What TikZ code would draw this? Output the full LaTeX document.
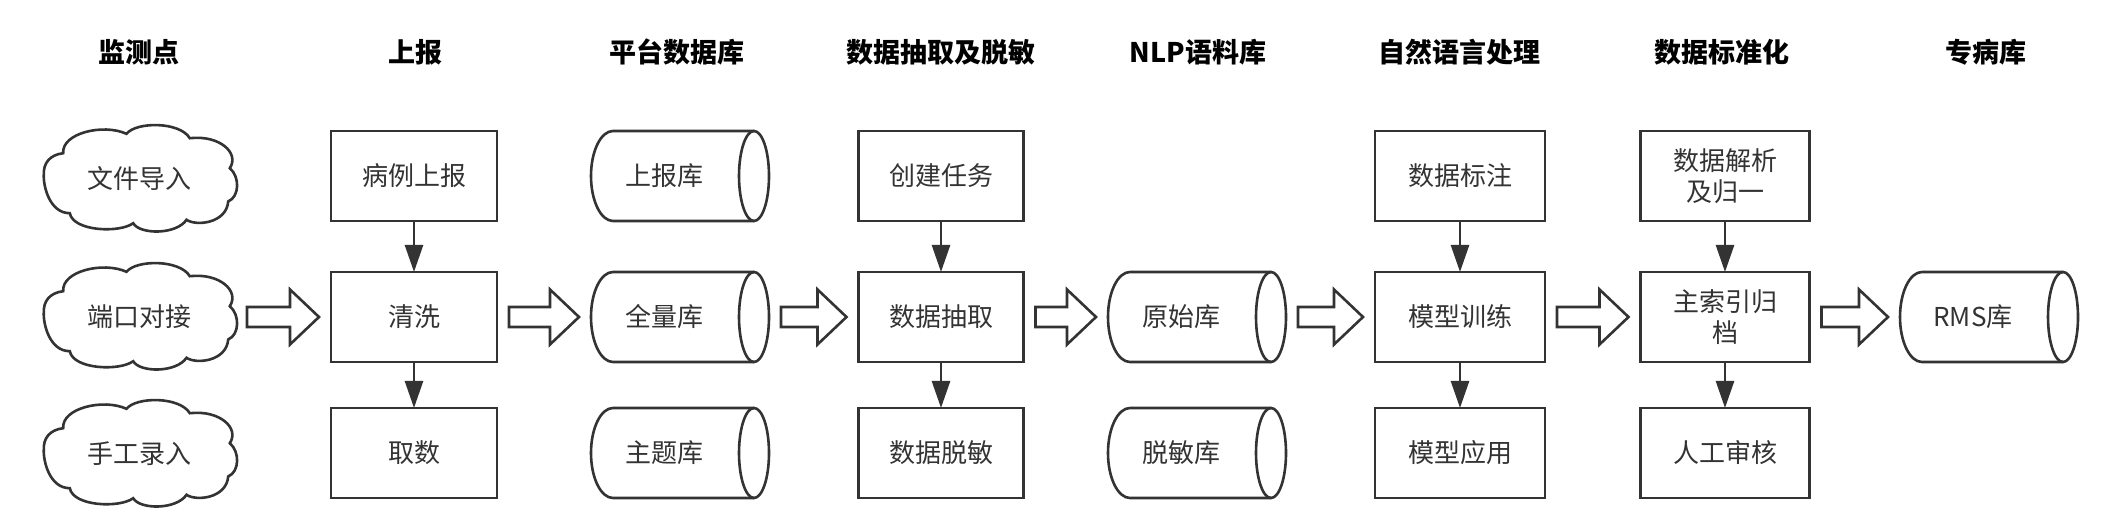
\documentclass[tikz,border=0pt]{standalone}
\usepackage{fontspec}
\setmainfont{Noto Sans CJK SC}
\usetikzlibrary{arrows.meta,calc}
\definecolor{linec}{HTML}{333333}
\definecolor{txtc}{HTML}{333333}
\tikzset{
  x=1pt, y=-1pt,
  every node/.style={inner sep=0pt, outer sep=0pt},
  hdr/.style={font=\fontsize{27}{30}\selectfont\bfseries, text=black},
  boxn/.style={draw=linec, line width=2.6pt, minimum height=90pt, text=txtc,
    font=\fontsize{26}{31}\selectfont, align=center},
  cyln/.style={minimum width=178pt, minimum height=90pt, text=txtc,
    font=\fontsize{26}{31}\selectfont},
  cloudn/.style={minimum width=192pt, minimum height=102pt, text=txtc,
    font=\fontsize{26}{31}\selectfont},
  shapeline/.style={draw=linec, line width=2.6pt},
  varr/.style={draw=linec, line width=2.6pt, -{Triangle[length=27pt,width=18pt]}},
  barr/.style={draw=linec, line width=2.6pt, fill=white, line join=miter},
}
\newcommand\mycloud[1]{%
  \draw[shapeline, shift={(#1.center)}]
    (-95.2,-4.2) .. controls (-95.8,-15.8) and (-89.2,-24.2) .. (-75.8,-25.8)
    .. controls (-77.5,-45.8) and (-35.8,-55.8) .. (-12.5,-45.2)
    .. controls (-2.5,-57.5) and (40.8,-57.5) .. (50.8,-40.8)
    .. controls (80.8,-44.2) and (100.8,-25.8) .. (90.8,-10.8)
    .. controls (100.8,-2.5) and (100.8,17.5) .. (89.2,22.5)
    .. controls (87.5,44.2) and (57.5,47.5) .. (47.5,40.8)
    .. controls (37.5,55.8) and (0.8,55.8) .. (-5.8,44.2)
    .. controls (-19.2,54.2) and (-65.8,52.5) .. (-69.2,34.2)
    .. controls (-89.2,34.2) and (-95.8,7.5) .. cycle;}
\newcommand\mycyl[1]{%
  \draw[shapeline] ([xshift=-15pt]#1.north east) -- ([xshift=22pt]#1.north west)
    arc[start angle=90, end angle=270, x radius=22pt, y radius=45pt]
    -- ([xshift=-15pt]#1.south east);
  \draw[shapeline] ([xshift=-15pt]#1.east) ellipse [x radius=15pt, y radius=45pt];}
\newcommand\blockarrow[2]{%
  \path let \p1=(#1.east), \p2=(#2.west) in
    [barr] (\x1+12pt,\y1+10pt) -- (\x2-41pt,\y1+10pt) -- (\x2-41pt,\y1+27.5pt)
    -- (\x2-12pt,\y1) -- (\x2-41pt,\y1-27.5pt) -- (\x2-41pt,\y1-10pt)
    -- (\x1+12pt,\y1-10pt) -- cycle;}
\begin{document}
\begin{tikzpicture}
\useasboundingbox (0,0) rectangle (2118,526);
% headers
\node[hdr] (h1) at (139,52) {监测点};
\node[hdr] (h2) at (415,52) {上报};
\node[hdr] (h3) at (677,52) {平台数据库};
\node[hdr] (h4) at (941,52) {数据抽取及脱敏};
\node[hdr] (h5) at (1198,52) {NLP语料库};
\node[hdr] (h6) at (1459,52) {自然语言处理};
\node[hdr] (h7) at (1722,52) {数据标准化};
\node[hdr] (h8) at (1986,52) {专病库};
% clouds
\node[cloudn] (c1) at (139,179) {文件导入};
\node[cloudn] (c2) at (139,317) {端口对接};
\node[cloudn] (c3) at (139,454) {手工录入};
\mycloud{c1}\mycloud{c2}\mycloud{c3}
% column 2
\node[boxn, minimum width=166pt] (b21) at (414,176) {病例上报};
\node[boxn, minimum width=166pt] (b22) at (414,317) {清洗};
\node[boxn, minimum width=166pt] (b23) at (414,453) {取数};
% column 3
\node[cyln] (y31) at (680,176) {\kern-32pt 上报库};
\node[cyln] (y32) at (680,317) {\kern-32pt 全量库};
\node[cyln] (y33) at (680,453) {\kern-32pt 主题库};
\mycyl{y31}\mycyl{y32}\mycyl{y33}
% column 4
\node[boxn, minimum width=165pt] (b41) at (941,176) {创建任务};
\node[boxn, minimum width=165pt] (b42) at (941,317) {数据抽取};
\node[boxn, minimum width=165pt] (b43) at (941,453) {数据脱敏};
% column 5
\node[cyln] (y52) at (1197,317) {\kern-32pt 原始库};
\node[cyln] (y53) at (1197,453) {\kern-32pt 脱敏库};
\mycyl{y52}\mycyl{y53}
% column 6
\node[boxn, minimum width=170pt] (b61) at (1460,176) {数据标注};
\node[boxn, minimum width=170pt] (b62) at (1460,317) {模型训练};
\node[boxn, minimum width=170pt] (b63) at (1460,453) {模型应用};
% column 7
\node[boxn, minimum width=169pt] (b71) at (1725,176) {数据解析\\及归一};
\node[boxn, minimum width=169pt] (b72) at (1725,317) {主索引归\\档};
\node[boxn, minimum width=169pt] (b73) at (1725,453) {人工审核};
% column 8
\node[cyln] (y82) at (1989,317) {\kern-32pt RMS库};
\mycyl{y82}
% vertical arrows
\draw[varr] (b21) -- (b22);
\draw[varr] (b22) -- (b23);
\draw[varr] (b41) -- (b42);
\draw[varr] (b42) -- (b43);
\draw[varr] (b61) -- (b62);
\draw[varr] (b62) -- (b63);
\draw[varr] (b71) -- (b72);
\draw[varr] (b72) -- (b73);
% block arrows
\blockarrow{c2}{b22}
\blockarrow{b22}{y32}
\blockarrow{y32}{b42}
\blockarrow{b42}{y52}
\blockarrow{y52}{b62}
\blockarrow{b62}{b72}
\blockarrow{b72}{y82}
\end{tikzpicture}
\end{document}
